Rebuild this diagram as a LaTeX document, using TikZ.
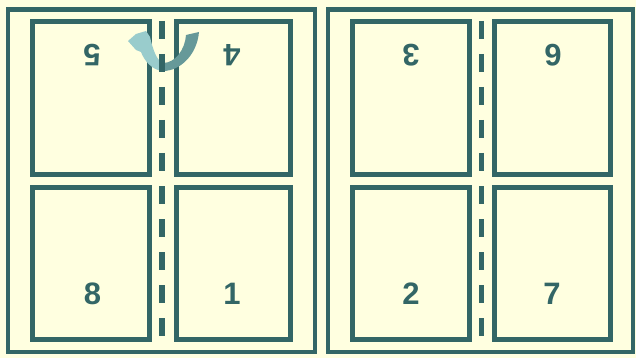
\documentclass[tikz,border=0pt]{standalone}
\usepackage{fontspec}
\setmainfont{Liberation Sans}
\definecolor{bgyel}{RGB}{255,255,224}
\definecolor{teal1}{RGB}{51,102,102}
\definecolor{arrlight}{RGB}{153,204,204}
\definecolor{arrdark}{RGB}{102,153,153}
\tikzset{
  panel/.style={draw=teal1, line width=4.6pt},
  pagebox/.style={draw=teal1, line width=5pt},
  fold/.style={draw=teal1, dash pattern=on 18pt off 15pt},
  num/.style={text=teal1, font=\fontsize{31}{31}\selectfont\bfseries, inner sep=0pt},
  flipnum/.style={num, rotate=180}
}
\begin{document}
\begin{tikzpicture}[x=1pt, y=-1pt]
\useasboundingbox (0,0) rectangle (636,358);
\fill[bgyel] (0,0) rectangle (636,358);
% panels
\draw[panel] (8,9.5) rectangle (315,352);
\draw[panel] (328,9.5) rectangle (633,352);
% pages left panel
\draw[pagebox] (32,22) rectangle (149.5,174.5);
\draw[pagebox] (176,22) rectangle (290.5,174.5);
\draw[pagebox] (32,187.5) rectangle (149.5,339.5);
\draw[pagebox] (176,187.5) rectangle (290.5,339.5);
% pages right panel
\draw[pagebox] (352,22) rectangle (469.5,174.5);
\draw[pagebox] (494.5,22) rectangle (610.5,174.5);
\draw[pagebox] (352,187.5) rectangle (469.5,339.5);
\draw[pagebox] (494.5,187.5) rectangle (610.5,339.5);
% curved arrow
\fill[arrlight] (164,71) .. controls (152,71) and (144,60) .. (141,52) -- (136,50) -- (128,41) -- (136,34) -- (146,31) -- (150,37) .. controls (153,50) and (157,62) .. (164,63) -- cycle;
\fill[arrdark] (163,71) .. controls (180,71) and (197,55) .. (199,32) -- (186,35) .. controls (185,50) and (175,63) .. (163,63) -- cycle;
% fold lines
\coordinate (fLa) at (162,21);
\coordinate (fLb) at (162,337);
\coordinate (fRa) at (481.5,21);
\coordinate (fRb) at (481.5,337);
\draw[fold, line width=5.5pt] (fLa) -- (fLb);
\draw[fold, line width=4.5pt] (fRa) -- (fRb);
% numbers
\node[flipnum] (n5) at (92,55) {5};
\node[flipnum] (n4) at (232,55) {4};
\node[flipnum] (n3) at (411,55) {3};
\node[flipnum] (n6) at (553,55) {6};
\node[num] (n8) at (92.5,294) {8};
\node[num] (n1) at (232,294) {1};
\node[num] (n2) at (411,294) {2};
\node[num] (n7) at (552,294) {7};
\end{tikzpicture}
\end{document}
